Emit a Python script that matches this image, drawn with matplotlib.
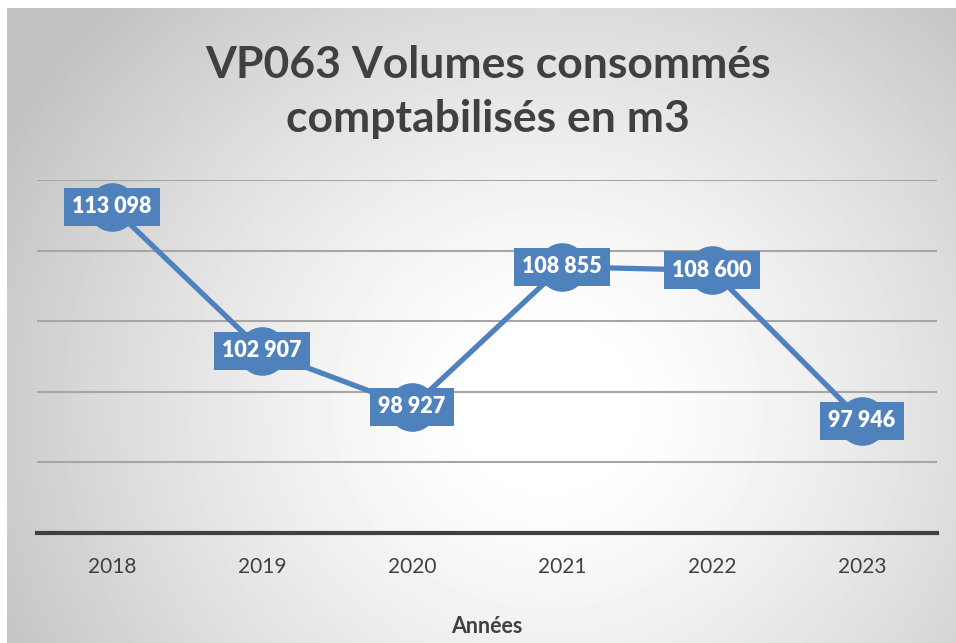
import numpy as np
import matplotlib
matplotlib.use("Agg")
import matplotlib.pyplot as plt

plt.rcParams['font.family'] = ['Lato', 'DejaVu Sans']

# data
annees = ['2018', '2019', '2020', '2021', '2022', '2023']
volumes = [113098, 102907, 98927, 108855, 108600, 97946]
etiquettes = ['113 098', '102 907', '98 927', '108 855', '108 600', '97 946']

bleu = '#4F81BD'
gris_texte = '#404040'

fig = plt.figure(figsize=(9.56, 6.43), dpi=100)
fig.patch.set_facecolor('white')

# radial gradient background
bg = fig.add_axes([7 / 956, 0, 1 - 7 / 956, 1 - 8 / 643])
h, w = 635, 949
yy, xx = np.mgrid[0:h, 0:w]
cx, cy = 540, 400
r = np.sqrt(((xx - cx) / 580.0) ** 2 + ((yy - cy) / 540.0) ** 2)
val = 1.0 - 0.26 * np.clip(r - 0.12, 0, 1.3) ** 1.3
val = np.clip(val, 0.76, 1.0)
bg.imshow(val, cmap='gray', vmin=0, vmax=1, aspect='auto', interpolation='bilinear')
bg.axis('off')

ax = fig.add_axes([37 / 956, 1 - 533 / 643, 900 / 956, (533 - 180) / 643])
ax.patch.set_alpha(0)
x = np.arange(len(annees))
ax.plot(x, volumes, color=bleu, lw=3.8, marker='o', markersize=34,
        markerfacecolor=bleu, markeredgecolor=bleu, zorder=3, clip_on=False)

for xi, v, lab in zip(x, volumes, etiquettes):
    ax.text(xi, v, lab, ha='center', va='center', color='white', fontsize=15.5,
            fontweight='heavy', zorder=5,
            bbox=dict(boxstyle='square,pad=0.4', fc=bleu, ec='none'))

ax.set_xlim(-0.5, len(annees) - 0.5)
ax.set_ylim(90000, 115000)
ax.set_yticks(np.arange(90000, 115001, 5000))
ax.yaxis.grid(True, color='#a6a6a6', lw=1.5)
ax.set_axisbelow(True)
ax.tick_params(axis='y', left=False, labelleft=False)
ax.tick_params(axis='x', bottom=False, labelsize=15, labelcolor=gris_texte, pad=14)
ax.set_xticks(x)
ax.set_xticklabels(annees)
for s in ['top', 'right', 'left']:
    ax.spines[s].set_visible(False)
ax.spines['bottom'].set_color(gris_texte)
ax.spines['bottom'].set_linewidth(3)
ax.set_xlabel('Années', fontsize=15.5, fontweight='bold', color=gris_texte, labelpad=28)

fig.text(488 / 956, 1 - 92 / 643, 'VP063 Volumes consommés\ncomptabilisés en m3',
         ha='center', va='center', fontsize=32, fontweight='bold', color=gris_texte,
         linespacing=1.4)

fig.savefig('out.png', dpi=100)
